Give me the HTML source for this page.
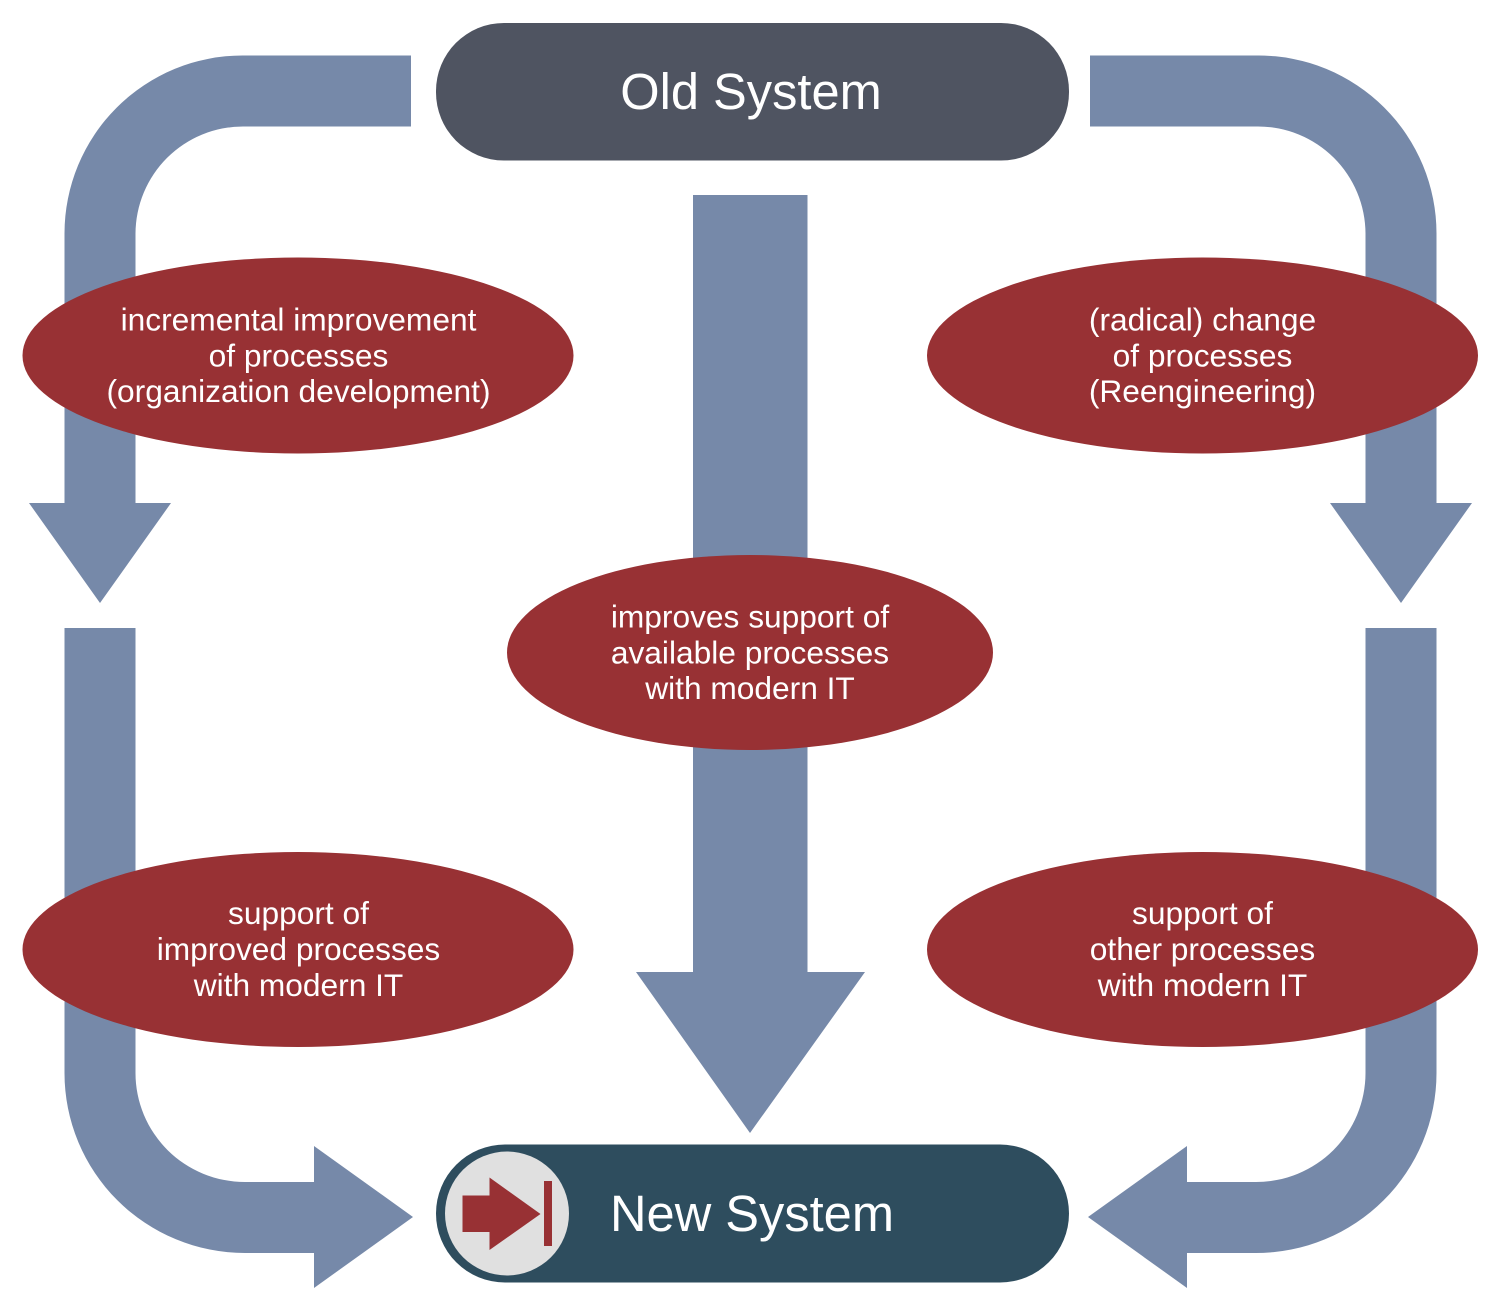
<!DOCTYPE html>
<html>
<head>
<meta charset="utf-8">
<style>
html,body{margin:0;padding:0;background:#ffffff;}
svg{display:block;}
text{font-family:"Liberation Sans",Arial,Helvetica,sans-serif;fill:#ffffff;}
</style>
</head>
<body>
<svg width="1500" height="1311" viewBox="0 0 1500 1311" xmlns="http://www.w3.org/2000/svg">
  <rect width="1500" height="1311" fill="#ffffff"/>

  <!-- Arrows -->
  <g fill="#7689a9">
    <!-- top-left bent arrow -->
    <path d="M411,55.5 H243 A178,178 0 0 0 64.5,233.5 V503 H29 L100,603 L171,503 H135.5 V233.5 A107.5,107.5 0 0 1 243,126.5 H411 Z"/>
    <!-- bottom-left bent arrow -->
    <path d="M64.5,628 V1073 A180.5,180 0 0 0 245,1253 H314 V1288 L413,1217 L314,1146 V1182 H245 A109.5,109 0 0 1 135.5,1073 V628 Z"/>
    <!-- mirrored right side -->
    <g transform="translate(1501,0) scale(-1,1)">
      <path d="M411,55.5 H243 A178,178 0 0 0 64.5,233.5 V503 H29 L100,603 L171,503 H135.5 V233.5 A107.5,107.5 0 0 1 243,126.5 H411 Z"/>
      <path d="M64.5,628 V1073 A180.5,180 0 0 0 245,1253 H314 V1288 L413,1217 L314,1146 V1182 H245 A109.5,109 0 0 1 135.5,1073 V628 Z"/>
    </g>
    <!-- center arrow -->
    <path d="M693,195 H807.5 V972 H865 L750,1133 L636,972 H693 Z"/>
  </g>

  <!-- Old System -->
  <rect x="436" y="23" width="633" height="137.5" rx="68" ry="68" fill="#4f5461"/>
  <text x="751" y="109" font-size="50.6" text-anchor="middle">Old System</text>

  <!-- New System -->
  <rect x="436" y="1144.5" width="633" height="138" rx="69" ry="69" fill="#2e4d5e"/>
  <circle cx="507" cy="1213.5" r="62" fill="#e0e0e0"/>
  <g fill="#983134">
    <rect x="462.5" y="1195.5" width="27.5" height="36.5"/>
    <polygon points="489.5,1177.5 489.5,1250 540.5,1214"/>
    <rect x="544" y="1181" width="8" height="65"/>
  </g>
  <text x="752" y="1231" font-size="50.6" text-anchor="middle">New System</text>

  <!-- Ellipses -->
  <g fill="#983134">
    <ellipse cx="298" cy="355.5" rx="275.5" ry="98"/>
    <ellipse cx="1202.5" cy="355.5" rx="275.5" ry="98"/>
    <ellipse cx="750" cy="652.5" rx="243" ry="97.5"/>
    <ellipse cx="298" cy="949.5" rx="275.5" ry="97.5"/>
    <ellipse cx="1202.5" cy="949.5" rx="275.5" ry="97.5"/>
  </g>

  <g font-size="31.7" text-anchor="middle">
    <text x="298.5" y="330.5">incremental improvement</text>
    <text x="298.5" y="366.5">of processes</text>
    <text x="298.5" y="402">(organization development)</text>

    <text x="1202.5" y="330.5">(radical) change</text>
    <text x="1202.5" y="366.5">of processes</text>
    <text x="1202.5" y="402">(Reengineering)</text>

    <text x="750" y="627.5">improves support of</text>
    <text x="750" y="663.5">available processes</text>
    <text x="750" y="699">with modern IT</text>

    <text x="298.5" y="924">support of</text>
    <text x="298.5" y="960">improved processes</text>
    <text x="298.5" y="996">with modern IT</text>

    <text x="1202.5" y="924">support of</text>
    <text x="1202.5" y="960">other processes</text>
    <text x="1202.5" y="996">with modern IT</text>
  </g>
</svg>
</body>
</html>
